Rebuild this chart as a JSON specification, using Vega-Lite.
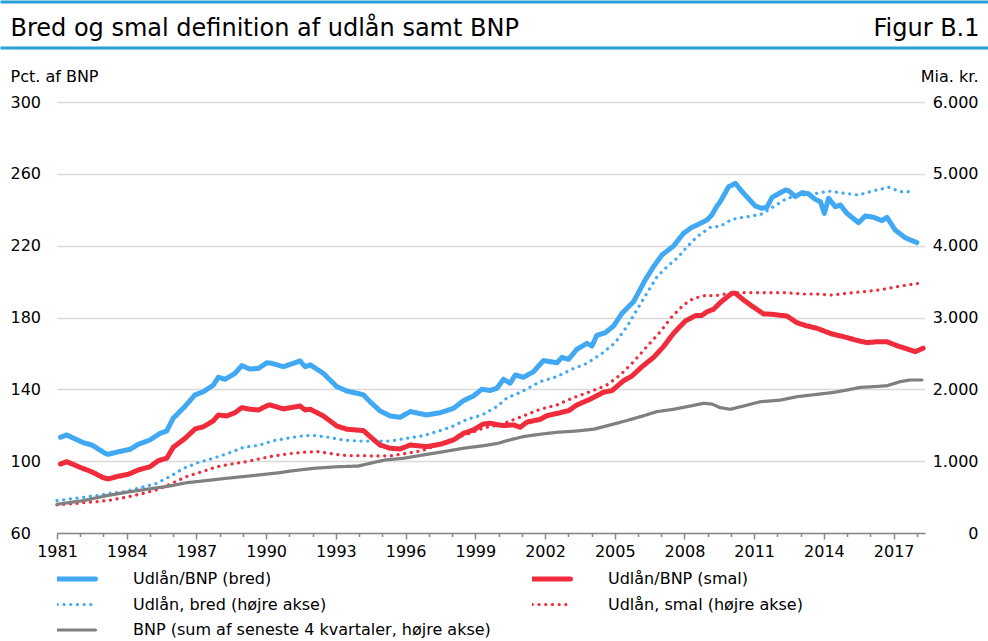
{
  "$schema": "https://vega.github.io/schema/vega-lite/v6.json",
  "autosize": {"type": "none"},
  "padding": {"left": 57, "top": 102, "right": 63, "bottom": 108},
  "width": 868,
  "height": 431,
  "background": "white",
  "config": {
    "font": "DejaVu Sans",
    "view": {"stroke": null},
    "axis": {"labelFont": "DejaVu Sans", "titleFont": "DejaVu Sans", "labelColor": "#000", "titleColor": "#000", "titleFontWeight": "normal"}
  },
  "datasets": {
    "pct": [
      {"t":1981.15,"serie":"Udlån/BNP (bred)","v":113.3},{"t":1981.42,"serie":"Udlån/BNP (bred)","v":114.6},{"t":1982.13,"serie":"Udlån/BNP (bred)","v":110.3},{"t":1982.5,"serie":"Udlån/BNP (bred)","v":109.0},{"t":1983.07,"serie":"Udlån/BNP (bred)","v":104.4},{"t":1983.2,"serie":"Udlån/BNP (bred)","v":103.8},{"t":1983.57,"serie":"Udlån/BNP (bred)","v":105.0},{"t":1984.14,"serie":"Udlån/BNP (bred)","v":106.6},{"t":1984.5,"serie":"Udlån/BNP (bred)","v":109.4},{"t":1985.0,"serie":"Udlån/BNP (bred)","v":111.8},{"t":1985.43,"serie":"Udlån/BNP (bred)","v":115.5},{"t":1985.72,"serie":"Udlån/BNP (bred)","v":116.8},{"t":1986.0,"serie":"Udlån/BNP (bred)","v":123.9},{"t":1986.5,"serie":"Udlån/BNP (bred)","v":130.4},{"t":1986.94,"serie":"Udlån/BNP (bred)","v":136.9},{"t":1987.3,"serie":"Udlån/BNP (bred)","v":138.7},{"t":1987.73,"serie":"Udlån/BNP (bred)","v":142.4},{"t":1987.94,"serie":"Udlån/BNP (bred)","v":146.7},{"t":1988.23,"serie":"Udlån/BNP (bred)","v":145.6},{"t":1988.66,"serie":"Udlån/BNP (bred)","v":148.9},{"t":1988.95,"serie":"Udlån/BNP (bred)","v":153.2},{"t":1989.3,"serie":"Udlån/BNP (bred)","v":151.3},{"t":1989.67,"serie":"Udlån/BNP (bred)","v":151.7},{"t":1990.03,"serie":"Udlån/BNP (bred)","v":154.8},{"t":1990.24,"serie":"Udlån/BNP (bred)","v":154.5},{"t":1990.74,"serie":"Udlån/BNP (bred)","v":152.6},{"t":1991.46,"serie":"Udlån/BNP (bred)","v":155.8},{"t":1991.68,"serie":"Udlån/BNP (bred)","v":152.6},{"t":1991.9,"serie":"Udlån/BNP (bred)","v":153.6},{"t":1992.46,"serie":"Udlån/BNP (bred)","v":148.9},{"t":1993.04,"serie":"Udlån/BNP (bred)","v":141.5},{"t":1993.47,"serie":"Udlån/BNP (bred)","v":139.1},{"t":1994.19,"serie":"Udlån/BNP (bred)","v":136.9},{"t":1994.47,"serie":"Udlån/BNP (bred)","v":133.1},{"t":1994.9,"serie":"Udlån/BNP (bred)","v":128.0},{"t":1995.33,"serie":"Udlån/BNP (bred)","v":125.2},{"t":1995.76,"serie":"Udlån/BNP (bred)","v":124.4},{"t":1996.2,"serie":"Udlån/BNP (bred)","v":127.6},{"t":1996.91,"serie":"Udlån/BNP (bred)","v":125.7},{"t":1997.49,"serie":"Udlån/BNP (bred)","v":127.0},{"t":1998.06,"serie":"Udlån/BNP (bred)","v":129.4},{"t":1998.49,"serie":"Udlån/BNP (bred)","v":133.7},{"t":1998.92,"serie":"Udlån/BNP (bred)","v":136.3},{"t":1999.28,"serie":"Udlån/BNP (bred)","v":140.0},{"t":1999.64,"serie":"Udlån/BNP (bred)","v":139.4},{"t":1999.93,"serie":"Udlån/BNP (bred)","v":140.6},{"t":2000.21,"serie":"Udlån/BNP (bred)","v":145.6},{"t":2000.5,"serie":"Udlån/BNP (bred)","v":143.4},{"t":2000.72,"serie":"Udlån/BNP (bred)","v":148.0},{"t":2001.07,"serie":"Udlån/BNP (bred)","v":146.7},{"t":2001.5,"serie":"Udlån/BNP (bred)","v":149.8},{"t":2001.93,"serie":"Udlån/BNP (bred)","v":156.0},{"t":2002.51,"serie":"Udlån/BNP (bred)","v":154.8},{"t":2002.73,"serie":"Udlån/BNP (bred)","v":157.8},{"t":2003.01,"serie":"Udlån/BNP (bred)","v":156.7},{"t":2003.37,"serie":"Udlån/BNP (bred)","v":162.3},{"t":2003.8,"serie":"Udlån/BNP (bred)","v":165.6},{"t":2004.02,"serie":"Udlån/BNP (bred)","v":164.1},{"t":2004.23,"serie":"Udlån/BNP (bred)","v":170.1},{"t":2004.59,"serie":"Udlån/BNP (bred)","v":171.5},{"t":2004.95,"serie":"Udlån/BNP (bred)","v":175.3},{"t":2005.31,"serie":"Udlån/BNP (bred)","v":182.3},{"t":2005.81,"serie":"Udlån/BNP (bred)","v":188.8},{"t":2006.31,"serie":"Udlån/BNP (bred)","v":200.9},{"t":2006.67,"serie":"Udlån/BNP (bred)","v":208.3},{"t":2007.03,"serie":"Udlån/BNP (bred)","v":214.8},{"t":2007.53,"serie":"Udlån/BNP (bred)","v":219.8},{"t":2007.96,"serie":"Udlån/BNP (bred)","v":226.9},{"t":2008.32,"serie":"Udlån/BNP (bred)","v":230.2},{"t":2008.68,"serie":"Udlån/BNP (bred)","v":232.4},{"t":2008.97,"serie":"Udlån/BNP (bred)","v":234.3},{"t":2009.18,"serie":"Udlån/BNP (bred)","v":237.1},{"t":2009.4,"serie":"Udlån/BNP (bred)","v":242.1},{"t":2009.54,"serie":"Udlån/BNP (bred)","v":244.5},{"t":2009.9,"serie":"Udlån/BNP (bred)","v":252.8},{"t":2010.19,"serie":"Udlån/BNP (bred)","v":254.7},{"t":2010.54,"serie":"Udlån/BNP (bred)","v":249.2},{"t":2011.05,"serie":"Udlån/BNP (bred)","v":242.1},{"t":2011.33,"serie":"Udlån/BNP (bred)","v":240.8},{"t":2011.55,"serie":"Udlån/BNP (bred)","v":241.4},{"t":2011.77,"serie":"Udlån/BNP (bred)","v":246.9},{"t":2012.34,"serie":"Udlån/BNP (bred)","v":251.0},{"t":2012.48,"serie":"Udlån/BNP (bred)","v":250.6},{"t":2012.77,"serie":"Udlån/BNP (bred)","v":247.3},{"t":2013.06,"serie":"Udlån/BNP (bred)","v":249.5},{"t":2013.34,"serie":"Udlån/BNP (bred)","v":248.8},{"t":2013.63,"serie":"Udlån/BNP (bred)","v":245.8},{"t":2013.85,"serie":"Udlån/BNP (bred)","v":244.5},{"t":2014.02,"serie":"Udlån/BNP (bred)","v":238.0},{"t":2014.2,"serie":"Udlån/BNP (bred)","v":246.4},{"t":2014.49,"serie":"Udlån/BNP (bred)","v":241.7},{"t":2014.71,"serie":"Udlån/BNP (bred)","v":242.6},{"t":2014.99,"serie":"Udlån/BNP (bred)","v":238.0},{"t":2015.49,"serie":"Udlån/BNP (bred)","v":232.8},{"t":2015.78,"serie":"Udlån/BNP (bred)","v":236.5},{"t":2016.14,"serie":"Udlån/BNP (bred)","v":235.8},{"t":2016.5,"serie":"Udlån/BNP (bred)","v":233.9},{"t":2016.71,"serie":"Udlån/BNP (bred)","v":235.8},{"t":2017.07,"serie":"Udlån/BNP (bred)","v":228.7},{"t":2017.5,"serie":"Udlån/BNP (bred)","v":224.4},{"t":2018.0,"serie":"Udlån/BNP (bred)","v":221.7},
      {"t":1981.15,"serie":"Udlån/BNP (smal)","v":98.4},{"t":1981.42,"serie":"Udlån/BNP (smal)","v":99.7},{"t":1981.99,"serie":"Udlån/BNP (smal)","v":96.6},{"t":1982.49,"serie":"Udlån/BNP (smal)","v":94.1},{"t":1982.99,"serie":"Udlån/BNP (smal)","v":90.8},{"t":1983.21,"serie":"Udlån/BNP (smal)","v":90.1},{"t":1983.57,"serie":"Udlån/BNP (smal)","v":91.4},{"t":1984.07,"serie":"Udlån/BNP (smal)","v":92.7},{"t":1984.5,"serie":"Udlån/BNP (smal)","v":95.1},{"t":1985.0,"serie":"Udlån/BNP (smal)","v":96.9},{"t":1985.36,"serie":"Udlån/BNP (smal)","v":100.3},{"t":1985.72,"serie":"Udlån/BNP (smal)","v":101.6},{"t":1986.0,"serie":"Udlån/BNP (smal)","v":107.7},{"t":1986.51,"serie":"Udlån/BNP (smal)","v":112.7},{"t":1986.94,"serie":"Udlån/BNP (smal)","v":117.9},{"t":1987.3,"serie":"Udlån/BNP (smal)","v":119.2},{"t":1987.73,"serie":"Udlån/BNP (smal)","v":122.5},{"t":1987.94,"serie":"Udlån/BNP (smal)","v":125.7},{"t":1988.3,"serie":"Udlån/BNP (smal)","v":125.2},{"t":1988.66,"serie":"Udlån/BNP (smal)","v":127.0},{"t":1988.95,"serie":"Udlån/BNP (smal)","v":129.8},{"t":1989.31,"serie":"Udlån/BNP (smal)","v":128.9},{"t":1989.67,"serie":"Udlån/BNP (smal)","v":128.5},{"t":1990.03,"serie":"Udlån/BNP (smal)","v":130.9},{"t":1990.17,"serie":"Udlån/BNP (smal)","v":131.3},{"t":1990.74,"serie":"Udlån/BNP (smal)","v":129.1},{"t":1991.46,"serie":"Udlån/BNP (smal)","v":130.7},{"t":1991.68,"serie":"Udlån/BNP (smal)","v":128.5},{"t":1991.9,"serie":"Udlån/BNP (smal)","v":128.9},{"t":1992.46,"serie":"Udlån/BNP (smal)","v":125.2},{"t":1993.04,"serie":"Udlån/BNP (smal)","v":119.6},{"t":1993.47,"serie":"Udlån/BNP (smal)","v":117.8},{"t":1994.19,"serie":"Udlån/BNP (smal)","v":117.0},{"t":1994.47,"serie":"Udlån/BNP (smal)","v":113.7},{"t":1994.9,"serie":"Udlån/BNP (smal)","v":109.0},{"t":1995.33,"serie":"Udlån/BNP (smal)","v":107.2},{"t":1995.76,"serie":"Udlån/BNP (smal)","v":106.8},{"t":1996.2,"serie":"Udlån/BNP (smal)","v":109.0},{"t":1996.91,"serie":"Udlån/BNP (smal)","v":108.1},{"t":1997.49,"serie":"Udlån/BNP (smal)","v":109.4},{"t":1998.06,"serie":"Udlån/BNP (smal)","v":111.8},{"t":1998.49,"serie":"Udlån/BNP (smal)","v":115.5},{"t":1998.92,"serie":"Udlån/BNP (smal)","v":117.4},{"t":1999.35,"serie":"Udlån/BNP (smal)","v":120.7},{"t":1999.64,"serie":"Udlån/BNP (smal)","v":121.1},{"t":2000.0,"serie":"Udlån/BNP (smal)","v":120.2},{"t":2000.21,"serie":"Udlån/BNP (smal)","v":119.8},{"t":2000.64,"serie":"Udlån/BNP (smal)","v":120.2},{"t":2000.93,"serie":"Udlån/BNP (smal)","v":118.9},{"t":2001.22,"serie":"Udlån/BNP (smal)","v":121.7},{"t":2001.79,"serie":"Udlån/BNP (smal)","v":123.3},{"t":2002.08,"serie":"Udlån/BNP (smal)","v":125.3},{"t":2002.66,"serie":"Udlån/BNP (smal)","v":127.0},{"t":2003.01,"serie":"Udlån/BNP (smal)","v":128.1},{"t":2003.37,"serie":"Udlån/BNP (smal)","v":131.3},{"t":2003.94,"serie":"Udlån/BNP (smal)","v":134.5},{"t":2004.52,"serie":"Udlån/BNP (smal)","v":138.4},{"t":2004.88,"serie":"Udlån/BNP (smal)","v":139.3},{"t":2005.38,"serie":"Udlån/BNP (smal)","v":144.8},{"t":2005.74,"serie":"Udlån/BNP (smal)","v":147.4},{"t":2006.17,"serie":"Udlån/BNP (smal)","v":152.6},{"t":2006.67,"serie":"Udlån/BNP (smal)","v":157.8},{"t":2007.1,"serie":"Udlån/BNP (smal)","v":163.8},{"t":2007.53,"serie":"Udlån/BNP (smal)","v":171.2},{"t":2008.04,"serie":"Udlån/BNP (smal)","v":178.1},{"t":2008.47,"serie":"Udlån/BNP (smal)","v":181.0},{"t":2008.75,"serie":"Udlån/BNP (smal)","v":181.2},{"t":2008.97,"serie":"Udlån/BNP (smal)","v":183.2},{"t":2009.25,"serie":"Udlån/BNP (smal)","v":184.6},{"t":2009.54,"serie":"Udlån/BNP (smal)","v":188.3},{"t":2009.68,"serie":"Udlån/BNP (smal)","v":189.8},{"t":2010.04,"serie":"Udlån/BNP (smal)","v":193.5},{"t":2010.19,"serie":"Udlån/BNP (smal)","v":193.5},{"t":2010.54,"serie":"Udlån/BNP (smal)","v":189.8},{"t":2010.9,"serie":"Udlån/BNP (smal)","v":186.4},{"t":2011.4,"serie":"Udlån/BNP (smal)","v":182.0},{"t":2011.77,"serie":"Udlån/BNP (smal)","v":181.8},{"t":2012.41,"serie":"Udlån/BNP (smal)","v":180.8},{"t":2012.84,"serie":"Udlån/BNP (smal)","v":177.1},{"t":2013.27,"serie":"Udlån/BNP (smal)","v":175.3},{"t":2013.7,"serie":"Udlån/BNP (smal)","v":174.0},{"t":2014.35,"serie":"Udlån/BNP (smal)","v":170.8},{"t":2014.85,"serie":"Udlån/BNP (smal)","v":169.3},{"t":2015.49,"serie":"Udlån/BNP (smal)","v":167.0},{"t":2015.85,"serie":"Udlån/BNP (smal)","v":166.0},{"t":2016.28,"serie":"Udlån/BNP (smal)","v":166.5},{"t":2016.71,"serie":"Udlån/BNP (smal)","v":166.5},{"t":2017.14,"serie":"Udlån/BNP (smal)","v":164.3},{"t":2017.58,"serie":"Udlån/BNP (smal)","v":162.5},{"t":2017.93,"serie":"Udlån/BNP (smal)","v":161.0},{"t":2018.27,"serie":"Udlån/BNP (smal)","v":162.9}
    ],
    "lvl": [
      {"t":1981.0,"serie":"Udlån, bred (højre akse)","v":450},{"t":1981.56,"serie":"Udlån, bred (højre akse)","v":475},{"t":1982.13,"serie":"Udlån, bred (højre akse)","v":497},{"t":1982.71,"serie":"Udlån, bred (højre akse)","v":520},{"t":1983.28,"serie":"Udlån, bred (højre akse)","v":552},{"t":1983.93,"serie":"Udlån, bred (højre akse)","v":575},{"t":1984.57,"serie":"Udlån, bred (højre akse)","v":630},{"t":1985.22,"serie":"Udlån, bred (højre akse)","v":682},{"t":1985.86,"serie":"Udlån, bred (højre akse)","v":785},{"t":1986.44,"serie":"Udlån, bred (højre akse)","v":900},{"t":1987.08,"serie":"Udlån, bred (højre akse)","v":980},{"t":1987.73,"serie":"Udlån, bred (højre akse)","v":1040},{"t":1988.37,"serie":"Udlån, bred (højre akse)","v":1110},{"t":1989.02,"serie":"Udlån, bred (højre akse)","v":1192},{"t":1989.67,"serie":"Udlån, bred (højre akse)","v":1220},{"t":1990.31,"serie":"Udlån, bred (højre akse)","v":1285},{"t":1990.67,"serie":"Udlån, bred (højre akse)","v":1305},{"t":1991.32,"serie":"Udlån, bred (højre akse)","v":1342},{"t":1991.96,"serie":"Udlån, bred (højre akse)","v":1360},{"t":1992.68,"serie":"Udlån, bred (højre akse)","v":1332},{"t":1993.32,"serie":"Udlån, bred (højre akse)","v":1295},{"t":1993.97,"serie":"Udlån, bred (højre akse)","v":1280},{"t":1994.62,"serie":"Udlån, bred (højre akse)","v":1280},{"t":1995.33,"serie":"Udlån, bred (højre akse)","v":1280},{"t":1996.05,"serie":"Udlån, bred (højre akse)","v":1318},{"t":1996.7,"serie":"Udlån, bred (højre akse)","v":1350},{"t":1997.35,"serie":"Udlån, bred (højre akse)","v":1410},{"t":1997.99,"serie":"Udlån, bred (højre akse)","v":1480},{"t":1998.64,"serie":"Udlån, bred (højre akse)","v":1582},{"t":1999.28,"serie":"Udlån, bred (højre akse)","v":1642},{"t":1999.93,"serie":"Udlån, bred (højre akse)","v":1760},{"t":2000.36,"serie":"Udlån, bred (højre akse)","v":1880},{"t":2001.0,"serie":"Udlån, bred (højre akse)","v":1967},{"t":2001.79,"serie":"Udlån, bred (højre akse)","v":2107},{"t":2002.51,"serie":"Udlån, bred (højre akse)","v":2177},{"t":2003.16,"serie":"Udlån, bred (højre akse)","v":2280},{"t":2003.8,"serie":"Udlån, bred (højre akse)","v":2362},{"t":2004.45,"serie":"Udlån, bred (højre akse)","v":2500},{"t":2005.02,"serie":"Udlån, bred (højre akse)","v":2650},{"t":2005.52,"serie":"Udlån, bred (højre akse)","v":2872},{"t":2005.95,"serie":"Udlån, bred (højre akse)","v":3105},{"t":2006.38,"serie":"Udlån, bred (højre akse)","v":3337},{"t":2006.82,"serie":"Udlån, bred (højre akse)","v":3567},{"t":2007.25,"serie":"Udlån, bred (højre akse)","v":3707},{"t":2007.68,"serie":"Udlån, bred (højre akse)","v":3825},{"t":2008.11,"serie":"Udlån, bred (højre akse)","v":3985},{"t":2008.54,"serie":"Udlån, bred (højre akse)","v":4125},{"t":2009.11,"serie":"Udlån, bred (højre akse)","v":4255},{"t":2009.54,"serie":"Udlån, bred (højre akse)","v":4270},{"t":2010.04,"serie":"Udlån, bred (højre akse)","v":4367},{"t":2010.69,"serie":"Udlån, bred (højre akse)","v":4402},{"t":2011.33,"serie":"Udlån, bred (højre akse)","v":4440},{"t":2011.83,"serie":"Udlån, bred (højre akse)","v":4542},{"t":2012.41,"serie":"Udlån, bred (højre akse)","v":4660},{"t":2013.06,"serie":"Udlån, bred (højre akse)","v":4705},{"t":2013.7,"serie":"Udlån, bred (højre akse)","v":4730},{"t":2014.2,"serie":"Udlån, bred (højre akse)","v":4760},{"t":2014.85,"serie":"Udlån, bred (højre akse)","v":4730},{"t":2015.49,"serie":"Udlån, bred (højre akse)","v":4705},{"t":2016.14,"serie":"Udlån, bred (højre akse)","v":4765},{"t":2016.79,"serie":"Udlån, bred (højre akse)","v":4812},{"t":2017.29,"serie":"Udlån, bred (højre akse)","v":4752},{"t":2017.75,"serie":"Udlån, bred (højre akse)","v":4752},
      {"t":1981.0,"serie":"Udlån, smal (højre akse)","v":390},{"t":1981.63,"serie":"Udlån, smal (højre akse)","v":405},{"t":1982.13,"serie":"Udlån, smal (højre akse)","v":422},{"t":1982.71,"serie":"Udlån, smal (højre akse)","v":435},{"t":1983.35,"serie":"Udlån, smal (højre akse)","v":460},{"t":1984.07,"serie":"Udlån, smal (højre akse)","v":505},{"t":1984.71,"serie":"Udlån, smal (højre akse)","v":552},{"t":1985.36,"serie":"Udlån, smal (højre akse)","v":607},{"t":1986.0,"serie":"Udlån, smal (højre akse)","v":700},{"t":1986.58,"serie":"Udlån, smal (højre akse)","v":785},{"t":1987.23,"serie":"Udlån, smal (højre akse)","v":852},{"t":1987.87,"serie":"Udlån, smal (højre akse)","v":922},{"t":1988.45,"serie":"Udlån, smal (højre akse)","v":957},{"t":1989.02,"serie":"Udlån, smal (højre akse)","v":985},{"t":1989.67,"serie":"Udlån, smal (højre akse)","v":1030},{"t":1990.31,"serie":"Udlån, smal (højre akse)","v":1072},{"t":1990.89,"serie":"Udlån, smal (højre akse)","v":1100},{"t":1991.6,"serie":"Udlån, smal (højre akse)","v":1125},{"t":1992.25,"serie":"Udlån, smal (højre akse)","v":1132},{"t":1992.89,"serie":"Udlån, smal (højre akse)","v":1100},{"t":1993.47,"serie":"Udlån, smal (højre akse)","v":1077},{"t":1994.12,"serie":"Udlån, smal (højre akse)","v":1077},{"t":1994.76,"serie":"Udlån, smal (højre akse)","v":1072},{"t":1995.41,"serie":"Udlån, smal (højre akse)","v":1077},{"t":1996.05,"serie":"Udlån, smal (højre akse)","v":1110},{"t":1996.7,"serie":"Udlån, smal (højre akse)","v":1145},{"t":1997.35,"serie":"Udlån, smal (højre akse)","v":1225},{"t":1997.99,"serie":"Udlån, smal (højre akse)","v":1305},{"t":1998.64,"serie":"Udlån, smal (højre akse)","v":1375},{"t":1999.42,"serie":"Udlån, smal (højre akse)","v":1467},{"t":2000.0,"serie":"Udlån, smal (højre akse)","v":1505},{"t":2000.36,"serie":"Udlån, smal (højre akse)","v":1542},{"t":2001.07,"serie":"Udlån, smal (højre akse)","v":1630},{"t":2001.79,"serie":"Udlån, smal (højre akse)","v":1722},{"t":2002.51,"serie":"Udlån, smal (højre akse)","v":1782},{"t":2003.23,"serie":"Udlån, smal (højre akse)","v":1885},{"t":2003.94,"serie":"Udlån, smal (højre akse)","v":1967},{"t":2004.66,"serie":"Udlån, smal (højre akse)","v":2060},{"t":2005.24,"serie":"Udlån, smal (højre akse)","v":2200},{"t":2005.81,"serie":"Udlån, smal (højre akse)","v":2385},{"t":2006.38,"serie":"Udlån, smal (højre akse)","v":2595},{"t":2006.96,"serie":"Udlån, smal (højre akse)","v":2802},{"t":2007.46,"serie":"Udlån, smal (højre akse)","v":3012},{"t":2007.96,"serie":"Udlån, smal (højre akse)","v":3175},{"t":2008.39,"serie":"Udlån, smal (højre akse)","v":3267},{"t":2008.97,"serie":"Udlån, smal (højre akse)","v":3312},{"t":2009.25,"serie":"Udlån, smal (højre akse)","v":3300},{"t":2009.76,"serie":"Udlån, smal (højre akse)","v":3327},{"t":2010.4,"serie":"Udlån, smal (højre akse)","v":3345},{"t":2011.12,"serie":"Udlån, smal (højre akse)","v":3345},{"t":2011.77,"serie":"Udlån, smal (højre akse)","v":3345},{"t":2012.41,"serie":"Udlån, smal (højre akse)","v":3345},{"t":2013.06,"serie":"Udlån, smal (højre akse)","v":3327},{"t":2013.7,"serie":"Udlån, smal (højre akse)","v":3327},{"t":2014.35,"serie":"Udlån, smal (højre akse)","v":3312},{"t":2014.99,"serie":"Udlån, smal (højre akse)","v":3337},{"t":2015.71,"serie":"Udlån, smal (højre akse)","v":3360},{"t":2016.36,"serie":"Udlån, smal (højre akse)","v":3382},{"t":2017.0,"serie":"Udlån, smal (højre akse)","v":3420},{"t":2017.58,"serie":"Udlån, smal (højre akse)","v":3452},{"t":2018.27,"serie":"Udlån, smal (højre akse)","v":3485},
      {"t":1981.0,"serie":"BNP (sum af seneste 4 kvartaler, højre akse)","v":400},{"t":1982.13,"serie":"BNP (sum af seneste 4 kvartaler, højre akse)","v":450},{"t":1983.14,"serie":"BNP (sum af seneste 4 kvartaler, højre akse)","v":520},{"t":1984.14,"serie":"BNP (sum af seneste 4 kvartaler, højre akse)","v":575},{"t":1985.15,"serie":"BNP (sum af seneste 4 kvartaler, højre akse)","v":622},{"t":1985.86,"serie":"BNP (sum af seneste 4 kvartaler, højre akse)","v":655},{"t":1986.58,"serie":"BNP (sum af seneste 4 kvartaler, højre akse)","v":700},{"t":1987.3,"serie":"BNP (sum af seneste 4 kvartaler, højre akse)","v":725},{"t":1988.3,"serie":"BNP (sum af seneste 4 kvartaler, højre akse)","v":762},{"t":1989.31,"serie":"BNP (sum af seneste 4 kvartaler, højre akse)","v":795},{"t":1990.6,"serie":"BNP (sum af seneste 4 kvartaler, højre akse)","v":840},{"t":1991.03,"serie":"BNP (sum af seneste 4 kvartaler, højre akse)","v":862},{"t":1992.03,"serie":"BNP (sum af seneste 4 kvartaler, højre akse)","v":900},{"t":1993.04,"serie":"BNP (sum af seneste 4 kvartaler, højre akse)","v":922},{"t":1993.97,"serie":"BNP (sum af seneste 4 kvartaler, højre akse)","v":932},{"t":1994.47,"serie":"BNP (sum af seneste 4 kvartaler, højre akse)","v":970},{"t":1995.12,"serie":"BNP (sum af seneste 4 kvartaler, højre akse)","v":1017},{"t":1995.91,"serie":"BNP (sum af seneste 4 kvartaler, højre akse)","v":1040},{"t":1996.77,"serie":"BNP (sum af seneste 4 kvartaler, højre akse)","v":1087},{"t":1997.63,"serie":"BNP (sum af seneste 4 kvartaler, højre akse)","v":1132},{"t":1998.49,"serie":"BNP (sum af seneste 4 kvartaler, højre akse)","v":1180},{"t":1999.35,"serie":"BNP (sum af seneste 4 kvartaler, højre akse)","v":1215},{"t":2000.0,"serie":"BNP (sum af seneste 4 kvartaler, højre akse)","v":1250},{"t":2000.36,"serie":"BNP (sum af seneste 4 kvartaler, højre akse)","v":1285},{"t":2001.07,"serie":"BNP (sum af seneste 4 kvartaler, højre akse)","v":1342},{"t":2001.79,"serie":"BNP (sum af seneste 4 kvartaler, højre akse)","v":1375},{"t":2002.51,"serie":"BNP (sum af seneste 4 kvartaler, højre akse)","v":1402},{"t":2003.37,"serie":"BNP (sum af seneste 4 kvartaler, højre akse)","v":1420},{"t":2004.09,"serie":"BNP (sum af seneste 4 kvartaler, højre akse)","v":1445},{"t":2004.81,"serie":"BNP (sum af seneste 4 kvartaler, højre akse)","v":1505},{"t":2005.52,"serie":"BNP (sum af seneste 4 kvartaler, højre akse)","v":1565},{"t":2006.24,"serie":"BNP (sum af seneste 4 kvartaler, højre akse)","v":1632},{"t":2006.82,"serie":"BNP (sum af seneste 4 kvartaler, højre akse)","v":1690},{"t":2007.53,"serie":"BNP (sum af seneste 4 kvartaler, højre akse)","v":1722},{"t":2008.25,"serie":"BNP (sum af seneste 4 kvartaler, højre akse)","v":1767},{"t":2008.82,"serie":"BNP (sum af seneste 4 kvartaler, højre akse)","v":1805},{"t":2009.18,"serie":"BNP (sum af seneste 4 kvartaler, højre akse)","v":1795},{"t":2009.54,"serie":"BNP (sum af seneste 4 kvartaler, højre akse)","v":1745},{"t":2009.97,"serie":"BNP (sum af seneste 4 kvartaler, højre akse)","v":1722},{"t":2010.54,"serie":"BNP (sum af seneste 4 kvartaler, højre akse)","v":1767},{"t":2011.26,"serie":"BNP (sum af seneste 4 kvartaler, højre akse)","v":1827},{"t":2012.12,"serie":"BNP (sum af seneste 4 kvartaler, højre akse)","v":1850},{"t":2012.84,"serie":"BNP (sum af seneste 4 kvartaler, højre akse)","v":1897},{"t":2013.7,"serie":"BNP (sum af seneste 4 kvartaler, højre akse)","v":1930},{"t":2014.42,"serie":"BNP (sum af seneste 4 kvartaler, højre akse)","v":1957},{"t":2014.99,"serie":"BNP (sum af seneste 4 kvartaler, højre akse)","v":1990},{"t":2015.56,"serie":"BNP (sum af seneste 4 kvartaler, højre akse)","v":2027},{"t":2016.14,"serie":"BNP (sum af seneste 4 kvartaler, højre akse)","v":2037},{"t":2016.71,"serie":"BNP (sum af seneste 4 kvartaler, højre akse)","v":2050},{"t":2017.29,"serie":"BNP (sum af seneste 4 kvartaler, højre akse)","v":2107},{"t":2017.72,"serie":"BNP (sum af seneste 4 kvartaler, højre akse)","v":2130},{"t":2018.22,"serie":"BNP (sum af seneste 4 kvartaler, højre akse)","v":2130}
    ]
  },
  "layer": [
    {
      "data": {"values": [{"u": 0}]},
      "mark": {"type": "point", "opacity": 0},
      "encoding": {
        "x": {"field": "u", "type": "quantitative", "scale": {"domain": [0, 1], "range": [-57, 931]},
          "axis": {"orient": "top", "offset": 100.5, "domainColor": "#28a0d8", "domainWidth": 3, "ticks": false, "labels": false, "grid": false,
            "title": "Bred og smal definition af udlån samt BNP", "titleX": -47, "titleY": 33.5, "titleAlign": "left", "titleAnchor": "start", "titleBaseline": "alphabetic", "titleFontSize": 24}}
      }
    },
    {
      "data": {"values": [{"u": 0}]},
      "mark": {"type": "point", "opacity": 0},
      "encoding": {
        "x": {"field": "u", "type": "quantitative", "scale": {"domain": [0, 1], "range": [-57, 931]},
          "axis": {"orient": "top", "offset": 54.5, "domainColor": "#28a0d8", "domainWidth": 3, "ticks": false, "labels": false, "grid": false,
            "title": "Figur B.1", "titleX": 922, "titleY": -12.5, "titleAlign": "right", "titleAnchor": "end", "titleBaseline": "alphabetic", "titleFontSize": 24}}
      }
    },
    {
      "encoding": {
        "x": {"field": "t", "type": "quantitative", "scale": {"domain": [1981, 2018.35], "nice": false, "zero": false},
          "axis": {"values": [1981,1982,1983,1984,1985,1986,1987,1988,1989,1990,1991,1992,1993,1994,1995,1996,1997,1998,1999,2000,2001,2002,2003,2004,2005,2006,2007,2008,2009,2010,2011,2012,2013,2014,2015,2016,2017,2018],
            "labelExpr": "(datum.value - 1981) % 3 === 0 ? toString(datum.value) : ''",
            "labelOverlap": false, "labelFlush": false, "grid": false,
            "domainColor": "#888888", "domainWidth": 1.5, "tickColor": "#888888", "tickWidth": 1.5,
            "tickSize": {"condition": {"test": "(datum.value - 1981) % 3 === 0", "value": 6}, "value": 3.5},
            "labelPadding": 4, "labelFontSize": 16, "title": null}},
        "color": {"field": "serie", "type": "nominal",
          "scale": {"domain": ["Udlån/BNP (bred)", "Udlån/BNP (smal)", "Udlån, bred (højre akse)", "Udlån, smal (højre akse)", "BNP (sum af seneste 4 kvartaler, højre akse)"],
            "range": ["#41a8f4", "#ef2b3c", "#41a8f4", "#ef2b3c", "#808080"]},
          "legend": {"title": null, "orient": "bottom", "direction": "horizontal", "columns": 2, "symbolType": "stroke", "symbolSize": 4225, "clipHeight": 16, "symbolOffset": -2, "labelOffset": 62, "labelFontSize": 16, "labelColor": "#000", "labelLimit": 600, "columnPadding": 41, "rowPadding": 9.5, "offset": 12,
            "encode": {"symbols": {"update": {"strokeCap": {"value": "round"}, "strokeWidth": {"signal": "datum.value === 'Udlån/BNP (bred)' || datum.value === 'Udlån/BNP (smal)' ? 5 : 3.2"}}}}}},
        "strokeDash": {"field": "serie", "type": "nominal",
          "scale": {"domain": ["Udlån/BNP (bred)", "Udlån/BNP (smal)", "Udlån, bred (højre akse)", "Udlån, smal (højre akse)", "BNP (sum af seneste 4 kvartaler, højre akse)"],
            "range": [[1, 0], [1, 0], [0.1, 6.6], [0.1, 6.6], [1, 0]]},
          "legend": {"title": null}}
      },
      "layer": [
        {
          "data": {"name": "lvl"},
          "mark": {"type": "line", "strokeWidth": 3.2, "strokeCap": "round", "strokeJoin": "round"},
          "encoding": {
            "y": {"field": "v", "type": "quantitative", "scale": {"domain": [0, 6000], "nice": false},
              "axis": {"orient": "right", "values": [0,1000,2000,3000,4000,5000,6000], "grid": false, "domain": false, "ticks": false,
                "labelAlign": "right", "labelPadding": 53, "labelFontSize": 16,
                "labelExpr": "replace(format(datum.value, ','), ',', '.')",
                "title": "Mia. kr.", "titleAngle": 0, "titleAlign": "right", "titleX": 53, "titleY": -21, "titleBaseline": "alphabetic", "titleFontSize": 16}}
          }
        },
        {
          "data": {"name": "pct"},
          "mark": {"type": "line", "strokeWidth": 5, "strokeCap": "round", "strokeJoin": "round"},
          "encoding": {
            "y": {"field": "v", "type": "quantitative", "scale": {"domain": [60, 300], "nice": false, "zero": false},
              "axis": {"orient": "left", "values": [60,100,140,180,220,260,300], "grid": true, "gridColor": "#d9d9d9", "gridWidth": 1.5, "domain": false,
                "ticks": false, "labelAlign": "left", "labelPadding": 47, "labelFontSize": 16,
                "title": "Pct. af BNP", "titleAngle": 0, "titleAlign": "left", "titleX": -47, "titleY": -21, "titleBaseline": "alphabetic", "titleFontSize": 16}}
          }
        }
      ],
      "resolve": {"scale": {"y": "independent"}}
    }
  ],
  "resolve": {"scale": {"x": "independent", "y": "independent"}, "axis": {"x": "independent"}}
}
